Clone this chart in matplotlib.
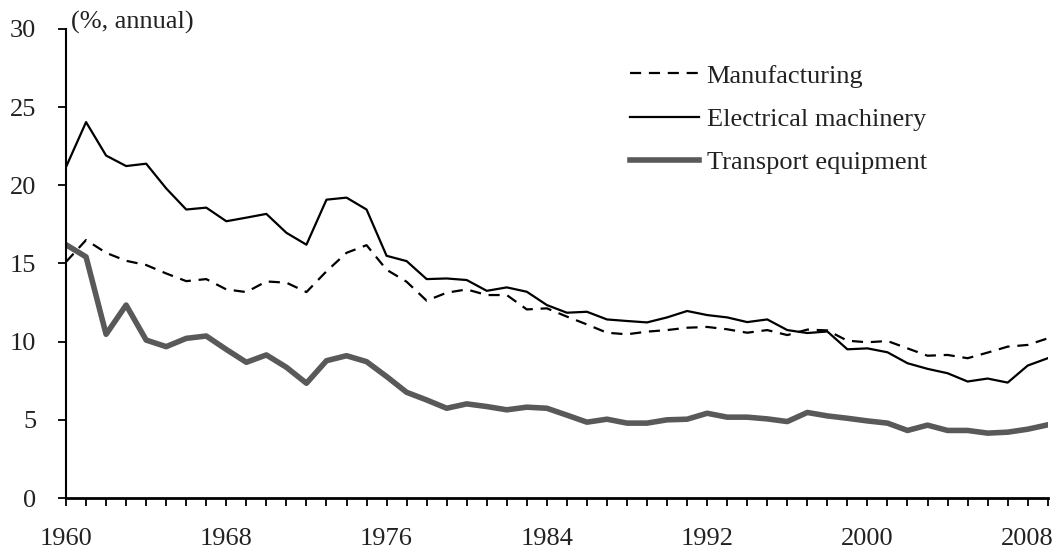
import matplotlib.pyplot as plt

# growth rates by sector, annual %
years = list(range(1960, 2010))

manufacturing = [15.1, 16.5, 15.68, 15.17, 14.9, 14.36, 13.87, 14.0, 13.34, 13.17,
                 13.85, 13.77, 13.17, 14.5, 15.68, 16.17, 14.6, 13.83, 12.62, 13.13,
                 13.34, 12.98, 12.98, 12.06, 12.13, 11.6, 11.1, 10.57, 10.47, 10.64,
                 10.74, 10.89, 10.94, 10.79, 10.57, 10.74, 10.42, 10.77, 10.72, 10.06,
                 9.96, 10.04, 9.57, 9.1, 9.15, 8.94, 9.3, 9.68, 9.79, 10.21]

electrical = [21.17, 24.04, 21.9, 21.23, 21.38, 19.8, 18.45, 18.57, 17.7, 17.93,
              18.17, 16.96, 16.2, 19.08, 19.21, 18.45, 15.49, 15.15, 14.0, 14.04,
              13.94, 13.25, 13.47, 13.19, 12.34, 11.85, 11.91, 11.42, 11.32, 11.23,
              11.55, 11.96, 11.7, 11.55, 11.25, 11.42, 10.74, 10.55, 10.65, 9.51,
              9.57, 9.32, 8.62, 8.26, 7.98, 7.45, 7.64, 7.38, 8.47, 8.94]

transport = [16.2, 15.42, 10.47, 12.34, 10.1, 9.68, 10.21, 10.36, 9.5, 8.68,
             9.15, 8.36, 7.34, 8.78, 9.1, 8.72, 7.77, 6.76, 6.27, 5.74,
             6.02, 5.85, 5.64, 5.81, 5.74, 5.3, 4.85, 5.04, 4.79, 4.79,
             5.0, 5.04, 5.42, 5.17, 5.17, 5.06, 4.89, 5.47, 5.25, 5.1,
             4.93, 4.79, 4.32, 4.66, 4.32, 4.32, 4.15, 4.21, 4.4, 4.68]

labels = ['Manufacturing', 'Electrical machinery', 'Transport equipment']
xlabels = [1960, 1968, 1976, 1984, 1992, 2000, 2008]

plt.rcParams['font.family'] = ['Liberation Serif', 'DejaVu Serif']
plt.rcParams['font.size'] = 19

fig = plt.figure(figsize=(10.53, 5.56), dpi=100)
ax = fig.add_axes([0.0627, 0.1043, 0.9323, 0.8437])

ax.plot(years, manufacturing, color='black', lw=1.6, ls=(0, (5, 3.5)), label=labels[0])
ax.plot(years, electrical, color='black', lw=1.6, label=labels[1])
ax.plot(years, transport, color='#595959', lw=4, label=labels[2])

ax.set_xlim(1960, 2009)
ax.set_ylim(0, 30)
ax.set_xticks(xlabels)
ax.set_xticks(years, minor=True)
ax.set_yticks([0, 5, 10, 15, 20, 25, 30])

for s in ['top', 'right']:
    ax.spines[s].set_visible(False)
ax.spines['left'].set_linewidth(1.5)
ax.spines['bottom'].set_linewidth(2)

ax.tick_params(axis='x', which='both', direction='out', length=5.5, width=1.3, pad=16, colors='black')
ax.tick_params(axis='y', direction='out', length=5.5, width=1.3, pad=16)
ax.tick_params(labelcolor='#222222')

ax.text(1960.25, 30.05, '(%, annual)', va='baseline', ha='left', color='#222222')

leg = ax.legend(loc='upper left', bbox_to_anchor=(0.574, 0.925), frameon=False,
                borderaxespad=0, borderpad=0, handlelength=2.65, handletextpad=0.27,
                labelspacing=0.75)
for t in leg.get_texts():
    t.set_color('#222222')

plt.savefig('out.png', dpi=100)
